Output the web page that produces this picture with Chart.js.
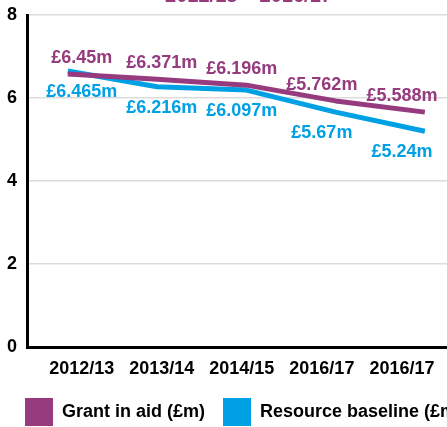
<!DOCTYPE html>
<html>
<head>
<meta charset="utf-8">
<script src="https://cdn.jsdelivr.net/npm/chart.js@4/dist/chart.umd.min.js"></script>
<style>
  html, body { margin: 0; padding: 0; background: #fff; overflow: hidden; }
  #wrap { position: absolute; left: 0; top: -30px; width: 490px; height: 466px; }
</style>
</head>
<body>
<div id="wrap"><canvas id="fundingChart"></canvas></div>
<script>
const years = ['2012/13', '2013/14', '2014/15', '2016/17', '2016/17'];
const grantInAid = [6.58, 6.45, 6.31, 5.93, 5.66];
const resourceBaseline = [6.65, 6.27, 6.19, 5.66, 5.20];
const grantLabels = ['£6.45m', '£6.371m', '£6.196m', '£5.762m', '£5.588m'];
const baselineLabels = ['£6.465m', '£6.216m', '£6.097m', '£5.67m', '£5.24m'];

const purple = '#953B7E';
const blue = '#00A1E4';
const fontFamily = '"Liberation Sans", Arial, Helvetica, sans-serif';

Chart.defaults.font.family = fontFamily;

// value labels sit over the category positions, above / below each line
const valueLabels = {
  id: 'valueLabels',
  afterDatasetsDraw(chart) {
    const ctx = chart.ctx;
    const xl = chart.scales.xl;
    const sets = [grantLabels, baselineLabels];
    const offsets = [-16, 21];
    ctx.save();
    ctx.font = 'bold 18px ' + fontFamily;
    ctx.textAlign = 'center';
    ctx.textBaseline = 'middle';
    chart.data.datasets.forEach((ds, i) => {
      const meta = chart.getDatasetMeta(i);
      ctx.fillStyle = ds.borderColor;
      sets[i].forEach((text, j) => {
        ctx.fillText(text, xl.getPixelForValue(j), meta.data[j].y + offsets[i]);
      });
    });
    ctx.restore();
  }
};

const ctx = document.getElementById('fundingChart');
const chart = new Chart(ctx, {
  type: 'line',
  data: {
    datasets: [
      {
        label: 'Grant in aid (£m)',
        data: grantInAid.map((v, i) => ({ x: i, y: v })),
        borderColor: purple,
        backgroundColor: purple,
        borderWidth: 5,
        pointRadius: 0,
        borderJoinStyle: 'round',
        xAxisID: 'x'
      },
      {
        label: 'Resource baseline (£m)',
        data: resourceBaseline.map((v, i) => ({ x: i, y: v })),
        borderColor: blue,
        backgroundColor: blue,
        borderWidth: 5,
        pointRadius: 0,
        borderJoinStyle: 'round',
        xAxisID: 'x'
      }
    ]
  },
  options: {
    responsive: true,
    maintainAspectRatio: false,
    animation: false,
    layout: { padding: { left: 7 } },
    scales: {
      x: { type: 'linear', display: false, min: -0.457, max: 4.702 },
      xl: {
        type: 'linear',
        position: 'bottom',
        min: -0.683,
        max: 5.069,
        afterBuildTicks: (s) => { s.ticks = years.map((_, i) => ({ value: i })); },
        afterFit: (s) => { s.height = 33; },
        ticks: {
          autoSkip: false,
          maxRotation: 0,
          padding: 11,
          color: '#000',
          font: { size: 18, weight: 'bold' },
          callback: (v) => years[v]
        },
        grid: { display: false, drawTicks: false, tickLength: 0 },
        border: { display: true, color: '#000', width: 3 }
      },
      y: {
        min: 0,
        max: 8,
        afterFit: (s) => { s.width = 20; },
        ticks: {
          stepSize: 2,
          padding: 10,
          color: '#000',
          font: { size: 18, weight: 'bold' }
        },
        grid: { color: '#dcdcdc', lineWidth: 1.5, drawTicks: false, tickLength: 0 },
        border: { color: '#000', width: 3 }
      }
    },
    plugins: {
      title: {
        display: true,
        text: '2012/13 – 2016/17',
        color: purple,
        font: { size: 20, weight: 'bold' },
        padding: { top: 14, bottom: 7 }
      },
      legend: {
        position: 'bottom',
        align: 'start',
        labels: {
          boxWidth: 28,
          boxHeight: 28,
          padding: 18,
          color: '#000',
          font: { size: 18, weight: 'bold' },
          generateLabels: (c) => Chart.defaults.plugins.legend.labels.generateLabels(c)
            .map((item) => ({ ...item, lineWidth: 0 }))
        }
      },
      tooltip: { enabled: false }
    }
  },
  plugins: [valueLabels]
});

// redraw once the bold face is ready so text is measured with the right font
document.fonts.load('bold 18px "Liberation Sans"').then(() => chart.update());
</script>
</body>
</html>
